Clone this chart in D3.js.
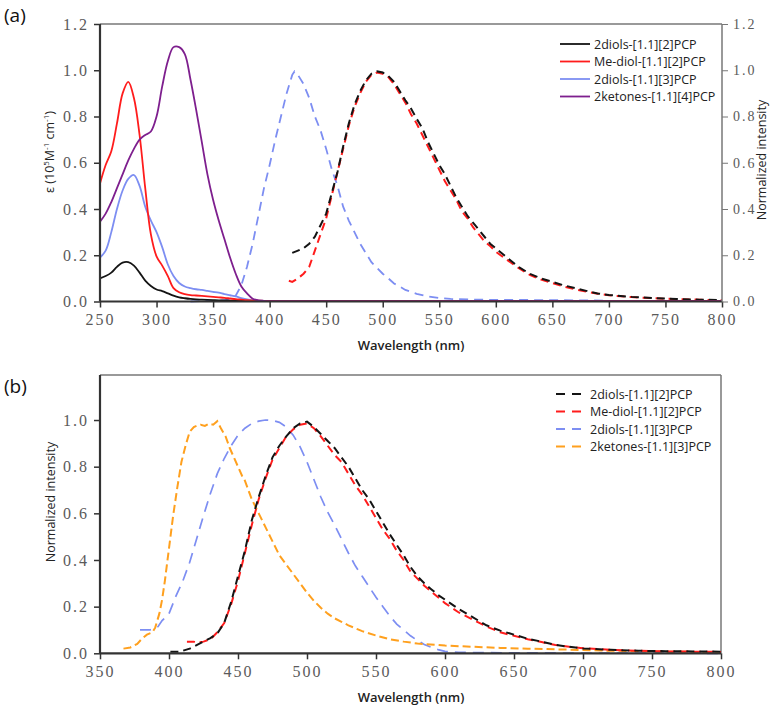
<!DOCTYPE html>
<html><head><meta charset="utf-8">
<script src="https://cdn.jsdelivr.net/npm/d3@7"></script>
<style>body{margin:0;background:#fff}svg{display:block}</style>
</head><body><svg id="c" width="771" height="712"></svg>
<script>
// ---------- DATA ----------
const absWl = [250,255,260,265,270,275,280,285,290,295,300,305,310,315,320,325,330,335,340,345,350,355,360,365,370,375,380,385,390,395,400,450,500,550,600,650,700,750,800];
const abs2diols12 = [0.10,0.11,0.125,0.15,0.168,0.17,0.155,0.125,0.09,0.067,0.052,0.045,0.035,0.025,0.018,0.014,0.011,0.009,0.008,0.007,0.006,0.005,0.005,0.004,0.004,0.003,0.003,0.003,0.002,0.002,0.002,0.002,0.002,0.002,0.002,0.002,0.002,0.002,0.002];
const absMediol12 = [0.51,0.59,0.65,0.77,0.90,0.95,0.88,0.72,0.49,0.29,0.195,0.155,0.11,0.058,0.04,0.032,0.028,0.026,0.024,0.022,0.02,0.018,0.016,0.013,0.01,0.008,0.006,0.005,0.004,0.003,0.003,0.003,0.003,0.003,0.003,0.003,0.003,0.003,0.003];
const abs2diols13 = [0.19,0.22,0.30,0.40,0.48,0.53,0.547,0.50,0.41,0.35,0.30,0.235,0.16,0.11,0.08,0.065,0.058,0.053,0.05,0.046,0.042,0.038,0.032,0.027,0.022,0.015,0.009,0.005,0.004,0.003,0.003,0.003,0.003,0.003,0.003,0.003,0.003,0.003,0.003];
const abs2ketones14 = [0.345,0.38,0.43,0.49,0.55,0.61,0.66,0.70,0.72,0.735,0.80,0.93,1.04,1.10,1.10,1.07,0.96,0.83,0.69,0.55,0.44,0.35,0.27,0.19,0.12,0.065,0.035,0.012,0.005,0.003,0.002,0.002,0.002,0.002,0.002,0.002,0.002,0.002,0.002];

const emTop13Wl = [330,340,350,360,365,370,375,380,385,390,395,400,405,410,415,420,422,425,430,435,440,445,450,455,460,465,470,475,480,485,490,495,500,505,510,515,520,530,540,550,560,580,600,650,700];
const emTop13 = [0.0,0.002,0.003,0.005,0.01,0.025,0.07,0.15,0.25,0.37,0.49,0.59,0.70,0.80,0.90,0.98,0.995,0.98,0.94,0.88,0.80,0.74,0.66,0.57,0.50,0.41,0.35,0.30,0.25,0.21,0.17,0.145,0.12,0.10,0.078,0.065,0.05,0.033,0.022,0.015,0.011,0.008,0.007,0.006,0.004];

const emTop12Wl = [420,425,430,435,440,445,450,455,460,465,470,475,480,485,490,495,500,505,510,515,520,525,530,535,540,545,550,555,560,565,570,575,580,585,590,595,600,610,620,630,640,650,660,670,680,690,700,720,740,760,780,800];
const emTop12 = [0.21,0.22,0.23,0.25,0.28,0.33,0.38,0.47,0.56,0.67,0.77,0.85,0.91,0.955,0.985,0.995,0.99,0.975,0.95,0.91,0.87,0.835,0.79,0.75,0.69,0.64,0.59,0.55,0.50,0.45,0.41,0.37,0.34,0.31,0.28,0.25,0.23,0.19,0.15,0.12,0.10,0.085,0.07,0.058,0.046,0.035,0.028,0.02,0.015,0.011,0.008,0.006];
const emTopMeWl = [417,420,425,430,435,440,445,450,455,460,465,470,475,480,485,490,495,500,505,510,515,520,525,530,535,540,545,550,555,560,565,570,575,580,585,590,595,600,610,620,630,640,650,660,670,680,690,700,720,740,760,780,800];
const emTopMe = [0.09,0.085,0.10,0.12,0.15,0.22,0.29,0.36,0.46,0.56,0.66,0.76,0.84,0.90,0.95,0.98,0.99,0.985,0.97,0.94,0.90,0.86,0.81,0.77,0.72,0.67,0.62,0.57,0.52,0.48,0.44,0.39,0.36,0.32,0.29,0.26,0.24,0.215,0.18,0.145,0.115,0.095,0.08,0.065,0.053,0.043,0.034,0.027,0.019,0.014,0.01,0.008,0.005];

const emBot12Wl = [401,408,415,420,425,430,435,440,445,450,455,460,465,470,475,480,485,490,495,500,505,510,515,520,525,530,535,540,545,550,555,560,565,570,575,580,585,590,595,600,610,620,630,640,650,660,670,680,690,700,720,740,760,780,800];
const emBot12 = [0.007,0.007,0.02,0.035,0.05,0.065,0.085,0.13,0.22,0.33,0.44,0.57,0.67,0.76,0.84,0.89,0.93,0.965,0.985,0.993,0.97,0.94,0.91,0.88,0.84,0.80,0.75,0.70,0.66,0.61,0.56,0.51,0.465,0.42,0.37,0.33,0.30,0.275,0.25,0.23,0.19,0.155,0.12,0.097,0.08,0.062,0.05,0.036,0.028,0.021,0.015,0.011,0.009,0.008,0.007];
const emBotMeWl = [413,418,420,425,430,435,440,445,450,455,460,465,470,475,480,485,490,495,500,505,510,515,520,525,530,535,540,545,550,555,560,565,570,575,580,585,590,595,600,610,620,630,640,650,660,670,680,690,700,720,740,760,780,800];
const emBotMe = [0.05,0.05,0.045,0.05,0.06,0.09,0.13,0.21,0.31,0.43,0.55,0.66,0.75,0.83,0.88,0.93,0.96,0.98,0.985,0.965,0.93,0.89,0.85,0.82,0.77,0.72,0.68,0.63,0.58,0.53,0.49,0.44,0.40,0.35,0.32,0.29,0.265,0.24,0.215,0.175,0.145,0.115,0.09,0.075,0.06,0.048,0.036,0.028,0.022,0.015,0.011,0.008,0.007,0.006];
const emBot13Wl = [379,386,390,392,395,400,405,410,415,420,425,430,435,440,445,450,455,460,465,470,475,480,485,490,495,500,505,510,515,520,525,530,535,540,545,550,555,560,565,570,575,580,585,590,595,600,610,650,700,800];
const emBot13 = [0.1,0.1,0.105,0.114,0.14,0.17,0.245,0.31,0.39,0.49,0.59,0.685,0.77,0.835,0.89,0.935,0.965,0.985,0.995,1.0,0.998,0.99,0.97,0.935,0.885,0.82,0.745,0.67,0.605,0.55,0.49,0.43,0.375,0.33,0.285,0.24,0.20,0.16,0.125,0.1,0.075,0.055,0.038,0.026,0.016,0.008,0.004,0.002,0.001,0.0];
const emBotKetWl = [367,372,377,380,384,388,390,393,395,397,400,403,406,409,412,415,418,420,423,426,429,432,435,438,441,444,447,450,453,455,460,465,470,475,480,485,490,495,500,505,510,515,520,525,530,540,550,560,570,580,600,620,640,660,680,700,720,740,760,780,800];
const emBotKet = [0.02,0.025,0.04,0.06,0.08,0.09,0.11,0.17,0.23,0.31,0.45,0.59,0.71,0.82,0.89,0.95,0.97,0.975,0.98,0.975,0.985,0.98,0.995,0.96,0.93,0.88,0.84,0.80,0.76,0.74,0.66,0.60,0.54,0.48,0.42,0.38,0.34,0.30,0.26,0.225,0.195,0.17,0.15,0.135,0.12,0.095,0.076,0.06,0.05,0.042,0.033,0.028,0.023,0.02,0.017,0.014,0.011,0.009,0.007,0.006,0.005];

const topTicksX = [250,300,350,400,450,500,550,600,650,700,750,800];
const botTicksX = [350,400,450,500,550,600,650,700,750,800];
const topTicksY = [0,0.2,0.4,0.6,0.8,1.0,1.2];
const botTicksY = [0,0.2,0.4,0.6,0.8,1.0];
const topLegend = ["2diols-[1.1][2]PCP","Me-diol-[1.1][2]PCP","2diols-[1.1][3]PCP","2ketones-[1.1][4]PCP"];
const botLegend = ["2diols-[1.1][2]PCP","Me-diol-[1.1][2]PCP","2diols-[1.1][3]PCP","2ketones-[1.1][3]PCP"];

// ---------- STYLE ----------
const C = {black:"#141414", red:"#ff1c1c", blue:"#7d8ef2", purple:"#7e1f8e", orange:"#ffa01e"};
const tickFont = "'Liberation Serif', 'DejaVu Serif', serif";
const labFont = "'Open Sans', 'Noto Sans', sans-serif";
const svg = d3.select("#c");

function zip(xs, ys){ return xs.map((x,i)=>[x, ys[i]]); }

function panel(opt){
  const g = svg.append("g");
  const x = d3.scaleLinear().domain(opt.xd).range([opt.l, opt.r]);
  const y = d3.scaleLinear().domain(opt.yd).range([opt.b, opt.t]);
  g.append("line").attr("x1",opt.l).attr("x2",opt.r).attr("y1",opt.t).attr("y2",opt.t).attr("stroke","#777").attr("stroke-width",1.5);
  if(!opt.rightAxis) g.append("line").attr("x1",opt.r).attr("x2",opt.r).attr("y1",opt.t).attr("y2",opt.b).attr("stroke","#777").attr("stroke-width",1.5);
  opt.series.forEach(s=>{
    g.append("path").datum(zip(s.x, s.y))
      .attr("fill","none").attr("stroke",s.color).attr("stroke-width",s.w||1.8)
      .attr("stroke-dasharray", s.dash||null)
      .attr("d", d3.line().x(d=>x(d[0])).y(d=>y(d[1])).curve(s.dash? d3.curveLinear : d3.curveCatmullRom.alpha(0.5)));
  });
  const ax = g.append("g").attr("transform",`translate(0,${opt.b})`)
     .call(d3.axisBottom(x).tickValues(opt.xt).tickSize(6).tickPadding(6).tickFormat(d3.format("d")));
  const ay = g.append("g").attr("transform",`translate(${opt.l},0)`)
     .call(d3.axisLeft(y).tickValues(opt.yt).tickSize(6).tickPadding(5).tickFormat(d3.format(".1f")));
  [ax,ay].forEach(a=>{
    a.attr("font-family",null).attr("font-size",null);
    a.select(".domain").attr("stroke","#333").attr("stroke-width",2.2);
    a.selectAll(".tick line").attr("stroke","#333").attr("stroke-width",1.5);
    a.selectAll("text").style("font-family",tickFont).style("font-size","16px").attr("fill","#5a5a5a").attr("letter-spacing","2px");
  });
  ax.select(".domain").attr("d",`M${opt.l},0H${opt.r}`);
  ay.select(".domain").attr("d",`M0,${opt.b}V${opt.t}`);
  if(opt.rightAxis){
    const ar = g.append("g").attr("transform",`translate(${opt.r},0)`)
      .call(d3.axisRight(y).tickValues(opt.yt).tickSize(6).tickPadding(5).tickFormat(d3.format(".1f")));
    ar.select(".domain").attr("stroke","#777").attr("stroke-width",1.5).attr("d",`M0,${opt.b}V${opt.t}`);
    ar.selectAll(".tick line").attr("stroke","#777");
    ar.selectAll("text").style("font-family",tickFont).style("font-size","14px").attr("fill","#5a5a5a").attr("letter-spacing","2px");
  }
  return {g,x,y};
}

// ---------- TOP PANEL ----------
const panelA = panel({l:100,r:722,t:24,b:301.5,xd:[250,800],yd:[0,1.2],xt:topTicksX,yt:topTicksY,rightAxis:true,
  series:[
    {x:emTop13Wl,y:emTop13,color:C.blue,dash:"9,6",w:1.8},
    {x:emTopMeWl,y:emTopMe,color:C.red,dash:"8,5",w:2},
    {x:emTop12Wl,y:emTop12,color:C.black,dash:"8,5",w:2},
    {x:absWl,y:abs2diols12,color:C.black},
    {x:absWl,y:abs2diols13,color:C.blue},
    {x:absWl,y:absMediol12,color:C.red},
    {x:absWl,y:abs2ketones14,color:C.purple},
  ]});

// ---------- BOTTOM PANEL ----------
const panelB = panel({l:100,r:721,t:375,b:653.3,xd:[350,800],yd:[0,1.193],xt:botTicksX,yt:botTicksY,rightAxis:false,
  series:[
    {x:emBot13Wl,y:emBot13,color:C.blue,dash:"11,7",w:1.7},
    {x:emBotKetWl,y:emBotKet,color:C.orange,dash:"8,4",w:2},
    {x:emBotMeWl,y:emBotMe,color:C.red,dash:"8,5",w:2},
    {x:emBot12Wl,y:emBot12,color:C.black,dash:"8,5",w:2},
  ]});

// ---------- LEGENDS ----------
const topCols = [C.black,C.red,C.blue,C.purple];
topLegend.forEach((t,i)=>{
  const yy = 44 + i*17.5;
  svg.append("line").attr("x1",560).attr("x2",590).attr("y1",yy).attr("y2",yy).attr("stroke",topCols[i]).attr("stroke-width",1.8);
  svg.append("text").attr("x",594).attr("y",yy+4.5).text(t).attr("font-family",labFont).attr("font-size",12.5).attr("fill","#222");
});
const botCols = [C.black,C.red,C.blue,C.orange];
botLegend.forEach((t,i)=>{
  const yy = 394 + i*17.5;
  svg.append("line").attr("x1",556).attr("x2",585).attr("y1",yy).attr("y2",yy).attr("stroke",botCols[i]).attr("stroke-width",1.8).attr("stroke-dasharray","9,7");
  svg.append("text").attr("x",590).attr("y",yy+4.5).text(t).attr("font-family",labFont).attr("font-size",12.5).attr("fill","#222");
});

// ---------- LABELS ----------
svg.append("text").attr("x",4).attr("y",22).text("(a)").attr("font-family",labFont).attr("font-size",19).attr("fill","#111");
svg.append("text").attr("x",4).attr("y",393).text("(b)").attr("font-family",labFont).attr("font-size",19).attr("fill","#111");
svg.append("text").attr("x",411).attr("y",350).attr("text-anchor","middle").text("Wavelength (nm)").attr("font-family",labFont).attr("font-size",13).attr("font-weight",600).attr("fill","#222");
svg.append("text").attr("x",411).attr("y",702).attr("text-anchor","middle").text("Wavelength (nm)").attr("font-family",labFont).attr("font-size",13).attr("font-weight",600).attr("fill","#222");
const yl = svg.append("text").attr("transform","translate(54,152) rotate(-90)").attr("text-anchor","middle")
  .attr("font-family",labFont).attr("font-size",12.5).attr("fill","#222");
yl.append("tspan").text("ε   (10");
yl.append("tspan").text("5").attr("font-size",8).attr("dy",-5);
yl.append("tspan").text("M").attr("dy",5);
yl.append("tspan").text("-1").attr("font-size",8).attr("dy",-5);
yl.append("tspan").text(" cm").attr("dy",5);
yl.append("tspan").text("-1").attr("font-size",8).attr("dy",-5);
yl.append("tspan").text(")").attr("dy",5);
svg.append("text").attr("transform","translate(766,160) rotate(-90)").attr("text-anchor","middle")
  .text("Normalized intensity").attr("font-family",labFont).attr("font-size",12.5).attr("fill","#222");
svg.append("text").attr("transform","translate(55,502) rotate(-90)").attr("text-anchor","middle")
  .text("Normalized intensity").attr("font-family",labFont).attr("font-size",12.5).attr("fill","#222");
</script></body></html>
